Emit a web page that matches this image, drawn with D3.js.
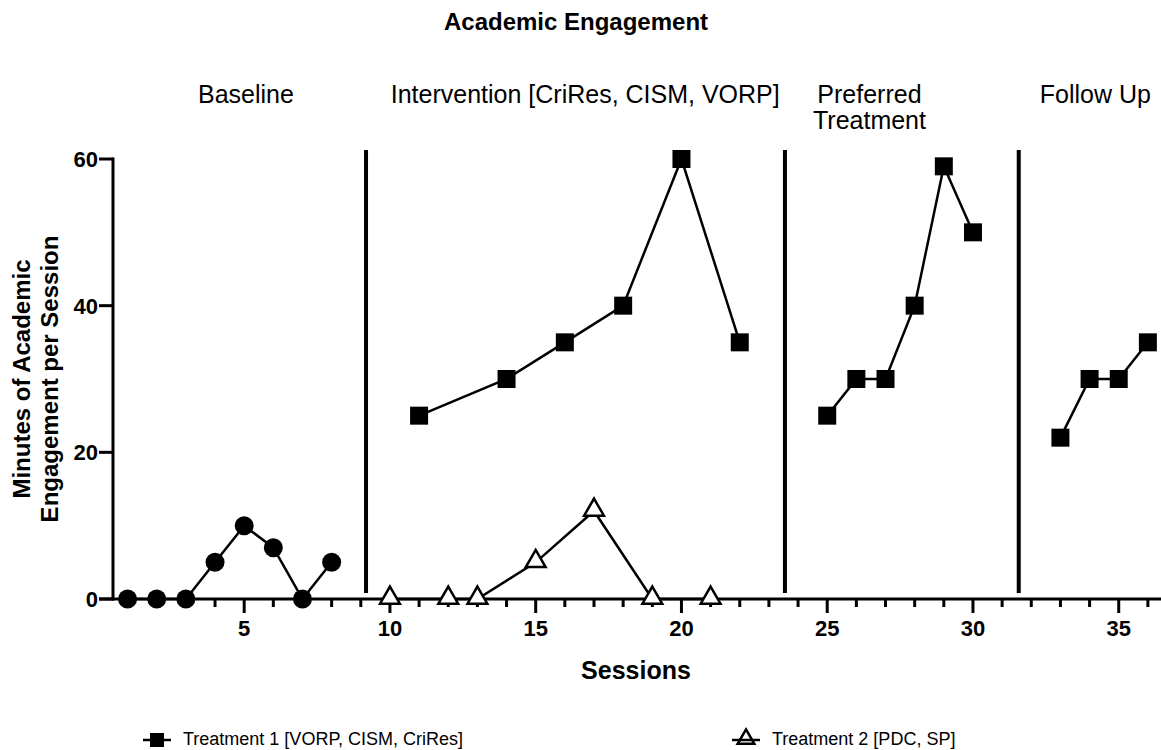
<!DOCTYPE html>
<html>
<head>
<meta charset="utf-8">
<script src="https://cdn.jsdelivr.net/npm/d3@7"></script>
<style>
  body { margin: 0; background: #fff; }
  text { font-family: "Liberation Sans", Arial, sans-serif; }
</style>
</head>
<body>
<div id="visContainer"></div>
<script>
'use strict';

var width = 1161;
var height = 750;

// data
var baselineSessions = [1, 2, 3, 4, 5, 6, 7, 8];
var baselineValues = [0, 0, 0, 5, 10, 7, 0, 5];

// treatment 1, one array per phase (lines are broken at the phase lines)
var t1Sessions = [[11, 14, 16, 18, 20, 22], [25, 26, 27, 28, 29, 30], [33, 34, 35, 36]];
var t1Values = [[25, 30, 35, 40, 60, 35], [25, 30, 30, 40, 59, 50], [22, 30, 30, 35]];

var t2Sessions = [10, 12, 13, 15, 17, 19, 21];
var t2Values = [0, 0, 0, 5, 12, 0, 0];

var phaseChanges = [9.18, 23.55, 31.57];
var phaseLabels = [
    { x: 5.06, lines: ['Baseline'] },
    { x: 16.7, lines: ['Intervention [CriRes, CISM, VORP]'] },
    { x: 26.45, lines: ['Preferred', 'Treatment'] },
    { x: 34.2, lines: ['Follow Up'] }
];

var xTicks = [5, 10, 15, 20, 25, 30, 35];
var yTicks = [0, 20, 40, 60];

var legendNames = ['Treatment 1 [VORP, CISM, CriRes]', 'Treatment 2 [PDC, SP]'];

// scales
var x = d3.scaleLinear().domain([0.5, 36.45]).range([113, 1161]);
var y = d3.scaleLinear().domain([0, 60]).range([599, 159]);

var svg = d3.select('#visContainer')
    .append('svg')
    .attr('width', width)
    .attr('height', height);

// title
svg.append('text')
    .attr('x', 576).attr('y', 30)
    .attr('text-anchor', 'middle')
    .style('font-size', '24px').style('font-weight', 'bold')
    .text('Academic Engagement');

// phase labels
phaseLabels.forEach(function(p) {
    p.lines.forEach(function(l, i) {
        svg.append('text')
            .attr('x', x(p.x)).attr('y', 103 + i * 26)
            .attr('text-anchor', 'middle')
            .style('font-size', '25px')
            .text(l);
    });
});

// x axis, minor ticks every session, major every 5
var minorTicks = d3.range(1, 37).filter(function(d) { return d % 5 !== 0; });
var gx = svg.append('g').attr('transform', 'translate(0,' + y(0) + ')');
gx.append('line')
    .attr('x1', x(0.5) - 14).attr('x2', width)
    .attr('stroke', '#000').attr('stroke-width', 3);
gx.selectAll('.minor').data(minorTicks).enter().append('line')
    .attr('x1', function(d) { return x(d); }).attr('x2', function(d) { return x(d); })
    .attr('y1', 0).attr('y2', 8)
    .attr('stroke', '#000').attr('stroke-width', 3);
gx.selectAll('.major').data(xTicks).enter().append('line')
    .attr('x1', function(d) { return x(d); }).attr('x2', function(d) { return x(d); })
    .attr('y1', 0).attr('y2', 14)
    .attr('stroke', '#000').attr('stroke-width', 3);
gx.selectAll('.lab').data(xTicks).enter().append('text')
    .attr('x', function(d) { return x(d); })
    .attr('y', 37)
    .attr('text-anchor', 'middle')
    .style('font-size', '22px').style('font-weight', 'bold')
    .text(function(d) { return d; });

svg.append('text')
    .attr('x', 636).attr('y', 679)
    .attr('text-anchor', 'middle')
    .style('font-size', '25px').style('font-weight', 'bold')
    .text('Sessions');

// y axis
var gy = svg.append('g').attr('transform', 'translate(' + x(0.5) + ',0)');
gy.append('line')
    .attr('y1', y(60) - 1.5).attr('y2', y(0) + 1.5)
    .attr('stroke', '#000').attr('stroke-width', 3);
gy.selectAll('.tick').data(yTicks).enter().append('line')
    .attr('x1', -14).attr('x2', 0)
    .attr('y1', function(d) { return y(d); }).attr('y2', function(d) { return y(d); })
    .attr('stroke', '#000').attr('stroke-width', 3);
gy.selectAll('.lab').data(yTicks).enter().append('text')
    .attr('x', -15)
    .attr('y', function(d) { return y(d) + 8; })
    .attr('text-anchor', 'end')
    .style('font-size', '22px').style('font-weight', 'bold')
    .text(function(d) { return d; });

var ylab = svg.append('text')
    .attr('transform', 'translate(0,379) rotate(-90)')
    .attr('text-anchor', 'middle')
    .style('font-size', '24px').style('font-weight', 'bold');
ylab.append('tspan').attr('x', 0).attr('y', 30).text('Minutes of Academic');
ylab.append('tspan').attr('x', 0).attr('y', 58).text('Engagement per Session');

// phase change lines
svg.selectAll('.phase').data(phaseChanges).enter().append('line')
    .attr('x1', function(d) { return x(d); }).attr('x2', function(d) { return x(d); })
    .attr('y1', 150).attr('y2', 593)
    .attr('stroke', '#000').attr('stroke-width', 4);

var line = d3.line()
    .x(function(d) { return x(d[0]); })
    .y(function(d) { return y(d[1]); });

function pairs(xs, ys) { return xs.map(function(s, i) { return [s, ys[i]]; }); }

var sq = d3.symbol().type(d3.symbolSquare).size(324);
var tri = d3.symbol().type(d3.symbolTriangle).size(170);

// baseline
var base = pairs(baselineSessions, baselineValues);
svg.append('path').attr('d', line(base))
    .attr('fill', 'none').attr('stroke', '#000').attr('stroke-width', 2.5);
svg.selectAll('.base').data(base).enter().append('circle')
    .attr('cx', function(d) { return x(d[0]); })
    .attr('cy', function(d) { return y(d[1]); })
    .attr('r', 9.5).attr('fill', '#000');

// treatment 2
var t2 = pairs(t2Sessions, t2Values);
svg.append('path').attr('d', line(t2))
    .attr('fill', 'none').attr('stroke', '#000').attr('stroke-width', 2.5);
svg.selectAll('.t2').data(t2).enter().append('path')
    .attr('d', tri)
    .attr('transform', function(d) { return 'translate(' + x(d[0]) + ',' + (y(d[1]) - 1) + ')'; })
    .attr('fill', '#fff').attr('stroke', '#000').attr('stroke-width', 2.5);

// treatment 1
t1Sessions.forEach(function(ss, k) {
    var pts = pairs(ss, t1Values[k]);
    svg.append('path').attr('d', line(pts))
        .attr('fill', 'none').attr('stroke', '#000').attr('stroke-width', 2.5);
    svg.selectAll('.t1' + k).data(pts).enter().append('path')
        .attr('d', sq)
        .attr('transform', function(d) { return 'translate(' + x(d[0]) + ',' + y(d[1]) + ')'; })
        .attr('fill', '#000');
});

// legend
var legY = 740;
var leg1 = svg.append('g').attr('transform', 'translate(157,' + legY + ')');
leg1.append('line').attr('x1', -14).attr('x2', 14)
    .attr('stroke', '#000').attr('stroke-width', 2.5);
leg1.append('path').attr('d', d3.symbol().type(d3.symbolSquare).size(196)).attr('fill', '#000');
leg1.append('text').attr('x', 26).attr('y', 5)
    .style('font-size', '18px').text(legendNames[0]);

var leg2 = svg.append('g').attr('transform', 'translate(746,' + legY + ')');
leg2.append('path').attr('d', d3.symbol().type(d3.symbolTriangle).size(120))
    .attr('transform', 'translate(0,-1)')
    .attr('fill', '#fff').attr('stroke', '#000').attr('stroke-width', 2.5);
leg2.append('line').attr('x1', -14).attr('x2', 14)
    .attr('stroke', '#000').attr('stroke-width', 2.5);
leg2.append('text').attr('x', 26).attr('y', 5)
    .style('font-size', '18px').text(legendNames[1]);
</script>
</body>
</html>
